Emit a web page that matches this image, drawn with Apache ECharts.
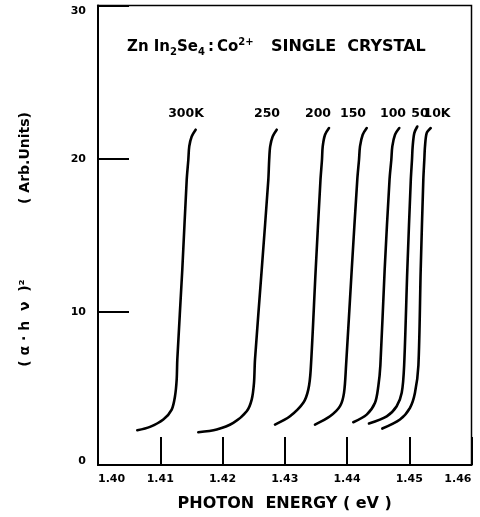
<!DOCTYPE html>
<html>
<head>
<meta charset="utf-8">
<script src="https://cdn.jsdelivr.net/npm/echarts@6/dist/echarts.min.js"></script>
<style>html,body{margin:0;padding:0;background:#fff;}#c{width:480px;height:517px;}</style>
</head>
<body>
<div id="c"></div>
<script>
// Tick values
const xTicks = [1.40, 1.41, 1.42, 1.43, 1.44, 1.45, 1.46];
const yTicks = [0, 10, 20, 30];

// Curve labels and their positions (data units)
const curveNames = ['300K', '250', '200', '150', '100', '50', '10K'];
const labelEnergy = [1.41414, 1.42715, 1.43534, 1.44096, 1.44739, 1.45173, 1.45446];
const labelValue = [22.95, 22.95, 22.95, 22.95, 22.95, 22.95, 22.95];

// 300 K
const e300 = [1.40631, 1.40835, 1.41049, 1.41184, 1.41237, 1.41264, 1.41274, 1.41354, 1.41425, 1.41451, 1.41466, 1.41505, 1.41569];
const a300 = [2.27, 2.49, 2.97, 3.62, 4.49, 5.58, 6.88, 12.75, 18.62, 19.93, 20.80, 21.45, 21.89];
// 250 K
const e250 = [1.41611, 1.41907, 1.42173, 1.42389, 1.42469, 1.42506, 1.42522, 1.42630, 1.42736, 1.42750, 1.42766, 1.42806, 1.42871];
const a250 = [2.14, 2.32, 2.75, 3.51, 4.27, 5.36, 6.88, 12.75, 18.62, 19.93, 20.80, 21.45, 21.89];
// 200 K
const e200 = [1.42843, 1.43084, 1.43298, 1.43378, 1.43417, 1.43497, 1.43574, 1.43598, 1.43610, 1.43647, 1.43711];
const a200 = [2.64, 3.18, 4.06, 4.92, 6.23, 12.75, 18.62, 19.93, 20.80, 21.56, 22.00];
// 150 K
const e150 = [1.43486, 1.43727, 1.43888, 1.43952, 1.43985, 1.44076, 1.44165, 1.44193, 1.44209, 1.44252, 1.44317];
const a150 = [2.64, 3.18, 3.84, 4.71, 6.50, 12.75, 18.62, 19.93, 20.80, 21.56, 22.00];
// 100 K
const e100 = [1.44101, 1.44316, 1.44450, 1.44503, 1.44536, 1.44605, 1.44683, 1.44712, 1.44728, 1.44771, 1.44840];
const a100 = [2.79, 3.29, 4.06, 5.14, 6.50, 12.75, 18.62, 19.93, 20.80, 21.56, 22.00];
// 50 K
const e50 = [1.44353, 1.44638, 1.44798, 1.44879, 1.44918, 1.44969, 1.45025, 1.45044, 1.45055, 1.45081, 1.45129];
const a50 = [2.71, 3.18, 3.84, 4.71, 6.50, 12.75, 18.62, 19.93, 20.80, 21.67, 22.10];
// 10 K
const e10 = [1.44567, 1.44851, 1.45012, 1.45092, 1.45147, 1.45184, 1.45226, 1.45242, 1.45253, 1.45280, 1.45345];
const a10 = [2.38, 2.97, 3.73, 4.71, 6.50, 12.75, 18.62, 19.93, 20.80, 21.67, 22.00];

const curveX = [e300, e250, e200, e150, e100, e50, e10];
const curveY = [a300, a250, a200, a150, a100, a50, a10];

const FONT = 'DejaVu Sans';
const chart = echarts.init(document.getElementById('c'), null, {renderer: 'canvas'});

const series = curveX.map((xs, i) => ({
  type: 'line',
  name: curveNames[i],
  data: xs.map((x, j) => [x, curveY[i][j]]),
  showSymbol: false,
  smooth: 0.3,
  lineStyle: {color: '#000', width: 2.6, cap: 'round', join: 'round'},
  silent: true,
  z: 3
}));

series.push({
  type: 'scatter',
  symbolSize: 0,
  itemStyle: {opacity: 1},
  data: labelEnergy.map((x, i) => [x, labelValue[i]]),
  label: {
    show: true,
    position: 'inside',
    formatter: p => curveNames[p.dataIndex],
    color: '#000',
    opacity: 1,
    fontFamily: FONT,
    fontWeight: 'bold',
    fontSize: 12.5
  },
  silent: true,
  z: 5
});

chart.setOption({
  animation: false,
  backgroundColor: '#fff',
  grid: {left: 98, right: 8.5, top: 5.5, bottom: 51.5, show: true, borderColor: '#000', borderWidth: 1.5, backgroundColor: 'transparent'},
  xAxis: {
    type: 'value',
    min: xTicks[0], max: xTicks[xTicks.length - 1], interval: 0.01,
    axisLine: {show: true, lineStyle: {color: '#000', width: 2}},
    axisTick: {show: true, inside: true, length: 28, lineStyle: {color: '#000', width: 2}},
    splitLine: {show: false},
    axisLabel: {
      color: '#000', fontFamily: FONT, fontWeight: 'bold', fontSize: 11, margin: 9,
      formatter: v => v.toFixed(2),
      alignMinLabel: 'left', alignMaxLabel: 'right'
    },
    name: 'PHOTON  ENERGY ( eV )',
    nameLocation: 'middle',
    nameGap: 31,
    nameTextStyle: {color: '#000', fontFamily: FONT, fontWeight: 'bold', fontSize: 16}
  },
  yAxis: {
    type: 'value',
    min: yTicks[0], max: yTicks[yTicks.length - 1], interval: 10,
    axisLine: {show: true, lineStyle: {color: '#000', width: 2}},
    axisTick: {show: true, inside: true, length: 31, lineStyle: {color: '#000', width: 2}},
    splitLine: {show: false},
    axisLabel: {
      color: '#000', fontFamily: FONT, fontWeight: 'bold', fontSize: 11, margin: 12,
      formatter: v => v === 30 ? '{t|30}' : (v === 0 ? '{b|0}' : String(v)),
      rich: {
        t: {fontFamily: FONT, fontWeight: 'bold', fontSize: 11, color: '#000', padding: [11, 0, 0, 0]},
        b: {fontFamily: FONT, fontWeight: 'bold', fontSize: 11, color: '#000', padding: [0, 0, 7, 0]}
      }
    }
  },
  graphic: [
    {
      type: 'text', left: 127, top: 37, z: 10,
      style: {
        text: '{m|Zn In}{s|2}{m|Se}{s|4}{m|\u2009:\u2009Co}{p|2+}',
        rich: {
          m: {fontFamily: FONT, fontWeight: 'bold', fontSize: 15, lineHeight: 20, fill: '#000'},
          s: {fontFamily: FONT, fontWeight: 'bold', fontSize: 10, lineHeight: 20, verticalAlign: 'bottom', fill: '#000'},
          p: {fontFamily: FONT, fontWeight: 'bold', fontSize: 10, lineHeight: 20, verticalAlign: 'top', fill: '#000'}
        }
      }
    },
    {
      type: 'text', left: 271, top: 37, z: 10,
      style: {text: 'SINGLE  CRYSTAL', fontFamily: FONT, fontWeight: 'bold', fontSize: 16, lineHeight: 20, fill: '#000'}
    },
    {
      type: 'text', x: 25, y: 158, rotation: Math.PI / 2, z: 10,
      style: {text: '( Arb.Units)', fontFamily: FONT, fontWeight: 'bold', fontSize: 14, fill: '#000', align: 'center', verticalAlign: 'middle'}
    },
    {
      type: 'text', x: 25, y: 323, rotation: Math.PI / 2, z: 10,
      style: {text: '( α · h  ν  )²', fontFamily: FONT, fontWeight: 'bold', fontSize: 14, fill: '#000', align: 'center', verticalAlign: 'middle'}
    }
  ],
  series: series
});
</script>
</body>
</html>
